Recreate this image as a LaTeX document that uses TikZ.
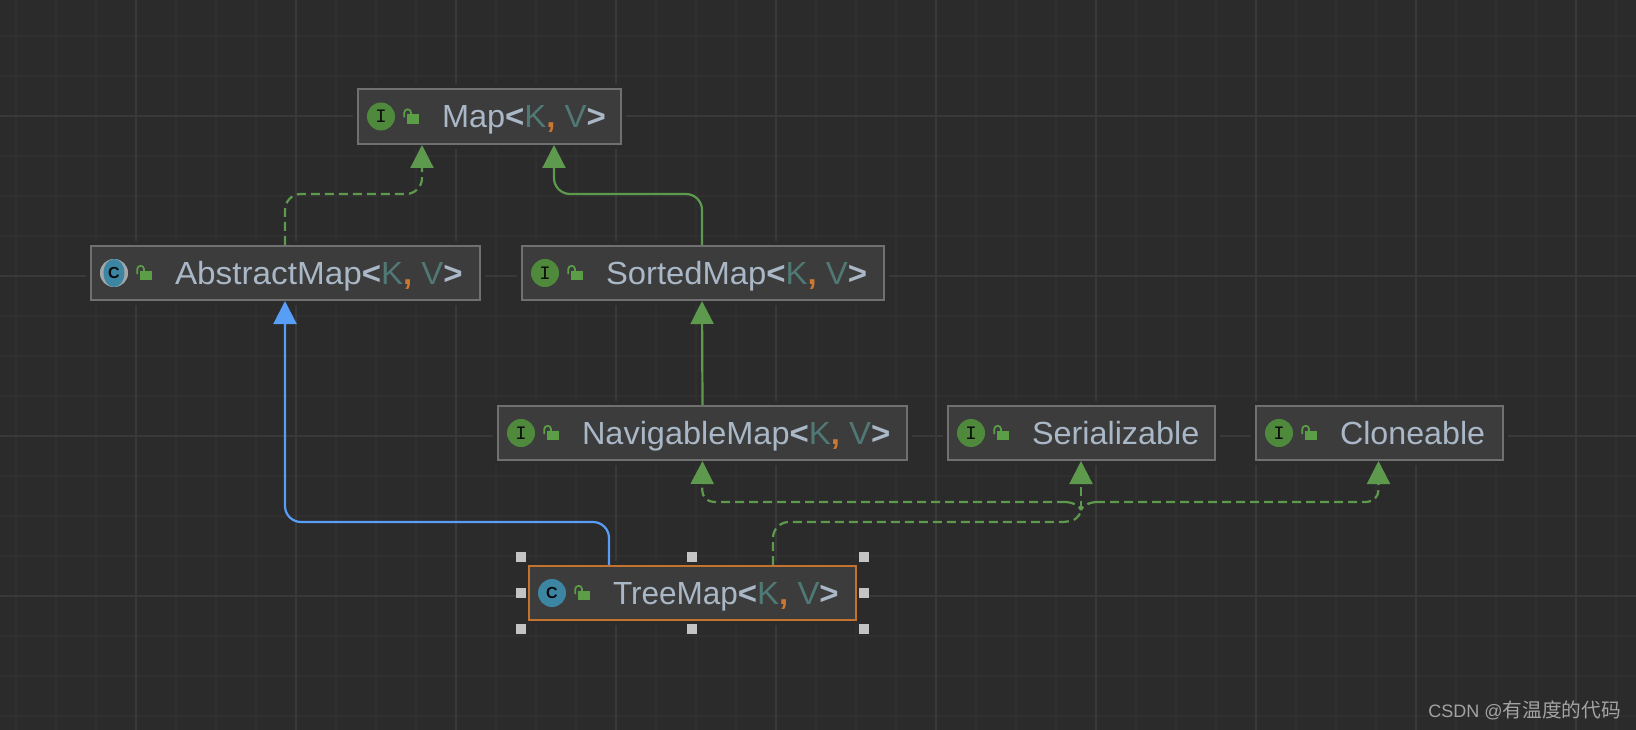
\documentclass[tikz,border=0pt]{standalone}
\usepackage{graphicx}
\usepackage{fontspec}
\setmainfont{Liberation Sans}
\newfontfamily\cjkwm{Noto Sans CJK SC}
\newfontfamily\iconmono{Liberation Mono}
\usetikzlibrary{arrows.meta,calc,shapes.geometric}
\definecolor{bgc}{HTML}{2B2B2B}
\definecolor{minorc}{HTML}{303030}
\definecolor{majorc}{HTML}{393939}
\definecolor{boxfill}{HTML}{3C3C3C}
\definecolor{boxline}{HTML}{707070}
\definecolor{labelc}{HTML}{A9B7C6}
\definecolor{typec}{HTML}{507874}
\definecolor{commac}{HTML}{CC7832}
\definecolor{greenc}{HTML}{5E9A4E}
\definecolor{ifacec}{HTML}{4F8A3C}
\definecolor{classc}{HTML}{3C85A3}
\definecolor{lockc}{HTML}{5C9E47}
\definecolor{bluec}{HTML}{589DF6}
\definecolor{handlec}{HTML}{C4C4C4}
\definecolor{selc}{HTML}{C4732E}
\definecolor{wmc}{HTML}{A3A3A3}
\tikzset{
  x=1pt,y=-1pt,
  umlbox/.style={draw=boxline,fill=boxfill,line width=2pt,rectangle,anchor=north west,inner sep=0pt,outer sep=1pt},
  selbox/.style={umlbox,draw=selc},
  iconball/.style={circle,minimum size=28pt,inner sep=0pt,outer sep=0pt,text=black!75!bgc},
  ifaceball/.style={iconball,fill=ifacec},
  classball/.style={iconball,fill=classc},
  umllabel/.style={anchor=base west,inner sep=0pt,outer sep=0pt,text=labelc,font=\fontsize{32}{36}\selectfont},
  handle/.style={rectangle,fill=handlec,minimum size=10pt,inner sep=0pt,outer sep=0pt},
  inh/.style={greenc,line width=2.2pt,rounded corners=16pt,-{Triangle[length=23pt,width=23pt]}},
  dep/.style={inh,dash pattern=on 9pt off 5pt},
  blueinh/.style={inh,bluec},
  joindep/.style={greenc,line width=2.2pt,dash pattern=on 9pt off 5pt},
}
\newcommand{\wordw}[2]{\scalebox{#1}[1]{#2}}
\newcommand{\KV}{\wordw{1.03}{\textbf{<}\textcolor{typec}{K}\textcolor{commac}{\textbf{,}} \textcolor{typec}{V}\textbf{>}}}
% #1 name, #2 x, #3 y, #4 w, #5 h (outer edges), #6 box style, #7 icon style, #8 letter, #9 label
\newcommand{\umlnode}[9]{%
  \fill[bgc] (#2-4,#3-4) rectangle ++(#4+8,#5+8);
  \node[#6,minimum width={#4pt-2pt},minimum height={#5pt-2pt}] (#1) at (#2,#3) {};
  \node[#7] (#1-icon) at (#2+24,#3+28) {#8};
  \fill[lockc] (#2+50.3,#3+26) rectangle ++(11.7,9.4);
  \draw[lockc,line width=1.7pt] (#2+47.3,#3+29) -- (#2+47.3,#3+24) .. controls (#2+47.3,#3+19.8) and (#2+54,#3+19.8) .. (#2+54,#3+24) -- (#2+54,#3+26);
  \node[umllabel] (#1-label) at (#2+85,#3+39) {#9};
}
\newcommand{\letterI}{\iconmono\fontsize{19}{19}\selectfont I}
\newcommand{\letterC}{\fontsize{16}{16}\selectfont\bfseries C}
\begin{document}
\begin{tikzpicture}
\useasboundingbox (0,0) rectangle (1636,730);
\fill[bgc] (0,0) rectangle (1636,730);
\foreach \gx in {16,56,...,1636} \draw[minorc,line width=1.5pt] (\gx,0) -- (\gx,730);
\foreach \gy in {36,76,...,730} \draw[minorc,line width=1.5pt] (0,\gy) -- (1636,\gy);
\foreach \gx in {136,296,...,1636} \draw[majorc,line width=1.8pt] (\gx,0) -- (\gx,730);
\foreach \gy in {116,276,436,596} \draw[majorc,line width=1.8pt] (0,\gy) -- (1636,\gy);

\umlnode{map}{357}{88.5}{265}{56.5}{umlbox}{ifaceball}{\letterI}{\wordw{1.015}{Map}\KV}
\umlnode{abs}{90}{245}{391}{56}{umlbox}{classball}{\letterC}{\wordw{1.04}{AbstractMap}\KV}
\umlnode{sorted}{521}{245}{364}{56}{umlbox}{ifaceball}{\letterI}{\wordw{1.025}{SortedMap}\KV}
\umlnode{nav}{497}{405}{411}{56}{umlbox}{ifaceball}{\letterI}{\wordw{1.015}{NavigableMap}\KV}
\umlnode{ser}{947}{405}{269}{56}{umlbox}{ifaceball}{\letterI}{\wordw{1.012}{Serializable}}
\umlnode{clo}{1255}{405}{249}{56}{umlbox}{ifaceball}{\letterI}{\wordw{1.007}{Cloneable}}
\umlnode{tree}{528}{565}{329}{56}{selbox}{classball}{\letterC}{\wordw{0.985}{TreeMap}\KV}
% the AbstractMap icon sits on a grey disc, seen at its sides
\fill[gray!70] (abs-icon) circle[radius=14pt];
\node[classball,minimum size=0pt,minimum width=21pt,minimum height=28pt,ellipse] at (abs-icon) {\letterC};

\foreach \hn/\hx/\hy in {h1/521/557,h2/692/557,h3/864/557,h4/521/593,h5/864/593,h6/521/629,h7/692/629,h8/864/629}
  \node[handle] (\hn) at (\hx,\hy) {};

\coordinate (jn) at (1081,510);
\coordinate (navturn) at (1066,502);
\coordinate (cloturn) at (1096,502);
\coordinate (treeturn) at (1060,522);
\draw[dep] ([xshift=-0.5pt]abs.north) -- ++(0,-51) -| ([xshift=-67.5pt]map.south);
\draw[inh] ([xshift=-1pt]sorted.north) -- ++(0,-51) -| ([xshift=64.5pt]map.south);
\draw[inh] (nav.north) -- ([xshift=-1pt]sorted.south);
\draw[blueinh] ([xshift=81pt]tree.north west) -- ++(0,-43) -| ([xshift=-0.5pt]abs.south);
% TreeMap up to the shared trunk, trunk up to Serializable
\draw[joindep,rounded corners=16pt] ([xshift=245pt]tree.north west) |- (treeturn);
\draw[joindep] (treeturn) .. controls (1075,522) and (1079,518) .. (jn);
\draw[dep] (jn) -- ([xshift=-0.5pt]ser.south);
% branches leaving the trunk for NavigableMap and Cloneable
\draw[dep,rounded corners=12pt] (navturn) -- (702,502) -- (nav.south);
\draw[joindep] (navturn) .. controls (1074,503) and (1079,505) .. (jn);
\draw[dep,rounded corners=12pt] (cloturn) -- (1378.5,502) -- ([xshift=-1pt]clo.south);
\draw[joindep] (cloturn) .. controls (1088,503) and (1083,505) .. (jn);

\node[anchor=base east,inner sep=0pt,text=wmc,font=\cjkwm\fontsize{19.7}{21}\selectfont] (wm) at (1621,717) {{\rmfamily\fontsize{18}{21}\selectfont CSDN @}有温度的代码};
\end{tikzpicture}
\end{document}
